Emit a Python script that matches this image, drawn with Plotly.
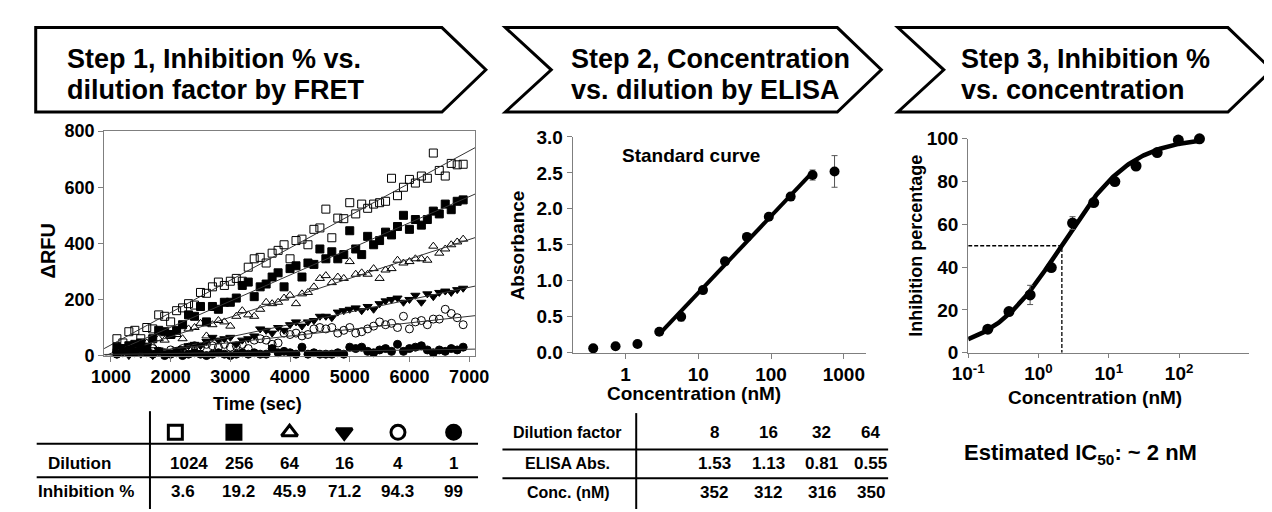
import plotly.graph_objects as go
import numpy as np

W, H = 1272, 512
FONT = "Liberation Sans, Arial, sans-serif"
AX = "#7f7f7f"

# ---------------- Step 1: FRET progress curves ----------------
time_sec = [1100 + 100 * i for i in range(59)]
dilution = [1024, 256, 64, 16, 4, 1]
inhibition_pct = [3.6, 19.2, 45.9, 71.2, 94.3, 99]
symbols = ["square-open", "square", "triangle-up-open", "triangle-down", "circle-open", "circle"]

rfu_1024 = [60, 45, 85, 90, 60, 100, 95, 145, 140, 120, 160, 170, 185, 180, 225, 222, 245, 262, 250, 265,
            275, 265, 315, 345, 350, 330, 365, 375, 395, 345, 410, 415, 395, 450, 455, 522, 420, 490, 488, 545,
            505, 540, 525, 540, 545, 550, 632, 570, 600, 628, 615, 640, 632, 722, 660, 640, 685, 680, 682]
rfu_256 = [30, 25, 35, 40, 45, 30, 60, 90, 85, 75, 90, 110, 145, 140, 175, 120, 175, 165, 190, 190,
           205, 250, 262, 210, 245, 255, 280, 295, 245, 310, 320, 280, 330, 325, 380, 345, 370, 345, 360, 445,
           380, 360, 425, 395, 410, 440, 430, 460, 500, 450, 485, 465, 485, 515, 505, 540, 520, 550, 555]
rfu_64 = [20, 25, 30, 15, 40, 45, 35, 60, 55, 70, 75, 60, 95, 100, 115, 70, 110, 125, 120, 105,
          140, 160, 145, 140, 165, 190, 185, 190, 205, 215, 185, 220, 225, 245, 275, 285, 260, 280, 275, 335,
          290, 295, 290, 310, 275, 305, 310, 340, 330, 335, 345, 345, 340, 390, 365, 380, 395, 405, 415]
rfu_16 = [5, 10, 0, 20, 5, 15, 0, 20, 15, 10, 20, 25, 35, 40, 35, 50, 65, 55, 60, 65,
          40, 55, 60, 70, 95, 90, 80, 100, 90, 110, 120, 105, 120, 125, 140, 140, 135, 155, 160, 165,
          170, 160, 175, 165, 185, 195, 200, 205, 190, 200, 215, 190, 220, 210, 225, 230, 225, 235, 240]
rfu_4 = [20, 10, 15, 25, 30, 20, 25, 15, 10, 20, 15, 25, 30, 35, 30, 40, 35, 30, 40, 30,
         35, 40, 25, 55, 60, 55, 40, 45, 80, 75, 80, 70, 75, 95, 100, 95, 100, 80, 90, 100,
         80, 85, 95, 105, 120, 110, 115, 100, 140, 95, 120, 125, 110, 130, 130, 165, 150, 135, 110]
rfu_1 = [5, 15, 20, 10, 25, 10, 5, 15, 0, 5, 10, 0, 5, 10, 5, 0, 5, 10, 5, 0,
         5, 10, 5, 10, 5, 5, 25, 10, 15, 10, 5, 30, 5, 10, 5, 5, 5, 10, 5, 30,
         25, 30, 15, 10, 20, 25, 15, 40, 15, 25, 30, 35, 20, 10, 20, 15, 25, 20, 30]
rfu_series = [rfu_1024, rfu_256, rfu_64, rfu_16, rfu_4, rfu_1]

# ---------------- Step 2: ELISA standard curve ----------------
std_conc = [0.36, 0.73, 1.46, 2.91, 5.82, 11.6, 23.3, 46.6, 93.1, 186, 372, 745]
std_abs = [0.06, 0.09, 0.12, 0.29, 0.50, 0.87, 1.27, 1.61, 1.89, 2.17, 2.47, 2.52]
std_err = [0.01, 0.01, 0.02, 0.02, 0.06, 0.03, 0.02, 0.02, 0.03, 0.02, 0.07, 0.22]
fit_idx = list(range(3, 11))
elisa_dilution = [8, 16, 32, 64]
elisa_abs = [1.53, 1.13, 0.81, 0.55]
elisa_conc = [352, 312, 316, 350]

# ---------------- Step 3: dose response ----------------
inh_conc = [0.19, 0.38, 0.76, 1.52, 3.05, 6.1, 12.2, 24.4, 48.8, 97.5, 195]
inh_pct = [11.0, 19.2, 27.0, 39.8, 60.6, 70.2, 80.0, 87.3, 93.6, 99.4, 100]
inh_err = [1.0, 1.0, 4.5, 1.5, 3.0, 1.5, 1.0, 1.0, 1.0, 0.8, 0.5]
fit_top, fit_bottom, fit_ic50, fit_hill = 101.0, 0.0, 2.15, 0.88

def X(px):
    return px / W

def Y(py):
    return 1 - py / H

fig = go.Figure()

# Panel 1
x1_range = [885, 7100]
for vals, sym in zip(rfu_series, symbols):
    fig.add_trace(go.Scatter(x=time_sec, y=vals, mode="markers", xaxis="x", yaxis="y",
                             marker=dict(symbol=sym, size=8, color="black", line=dict(color="black", width=1)),
                             cliponaxis=False, showlegend=False))
    k, b = np.polyfit(time_sec, vals, 1)
    xs = np.array(x1_range)
    ys = k * xs + b
    fig.add_trace(go.Scatter(x=xs, y=ys, mode="lines", xaxis="x", yaxis="y",
                             line=dict(color="#333333", width=1), showlegend=False))

# Panel 2
fig.add_trace(go.Scatter(x=std_conc, y=std_abs, mode="markers", xaxis="x2", yaxis="y2",
                         marker=dict(symbol="circle", size=10, color="black"),
                         error_y=dict(type="data", array=std_err, color="#555555", thickness=1, width=3),
                         cliponaxis=False, showlegend=False))
lx = np.log10([std_conc[i] for i in fit_idx])
ly = [std_abs[i] for i in fit_idx]
k2, b2 = np.polyfit(lx, ly, 1)
xs2 = np.array([std_conc[fit_idx[0]], std_conc[fit_idx[-1]]])
fig.add_trace(go.Scatter(x=xs2, y=k2 * np.log10(xs2) + b2, mode="lines", xaxis="x2", yaxis="y2",
                         line=dict(color="black", width=4), showlegend=False))

# Panel 3
xc = np.logspace(-1, np.log10(inh_conc[-1]), 200)
yc = fit_bottom + (fit_top - fit_bottom) / (1 + (fit_ic50 / xc) ** fit_hill)
fig.add_trace(go.Scatter(x=xc, y=yc, mode="lines", xaxis="x3", yaxis="y3",
                         line=dict(color="black", width=4.5), showlegend=False))
fig.add_trace(go.Scatter(x=inh_conc, y=inh_pct, mode="markers", xaxis="x3", yaxis="y3",
                         marker=dict(symbol="circle", size=11, color="black"),
                         error_y=dict(type="data", array=inh_err, color="#555555", thickness=1, width=3),
                         cliponaxis=False, showlegend=False))
fig.add_trace(go.Scatter(x=[0.1, fit_ic50, fit_ic50], y=[50, 50, 0], mode="lines", xaxis="x3", yaxis="y3",
                         line=dict(color="black", width=1.3, dash="4px,2px"), showlegend=False))

# Table symbols (overlay pixel axis)
sym_x = [155, 215, 272, 328, 383, 440]
fig.add_trace(go.Scatter(x=sym_x, y=[432] * 6, mode="markers", xaxis="x4", yaxis="y4",
                         marker=dict(symbol=symbols, size=14, color="black", line=dict(color="black", width=3)),
                         showlegend=False, hoverinfo="skip"))

def tf(size):
    return dict(family=FONT, size=size, color="black", weight="bold")

axis_common = dict(showline=True, linecolor=AX, linewidth=1, ticks="outside", ticklen=5, tickcolor=AX,
                   showgrid=False, zeroline=False)

fig.update_layout(
    width=W, height=H, margin=dict(l=0, r=0, t=0, b=0),
    paper_bgcolor="white", plot_bgcolor="rgba(0,0,0,0)",
    font=dict(family=FONT, color="black"),
    xaxis=dict(domain=[X(82), X(462)], range=x1_range, tickvals=list(range(1000, 7001, 1000)),
               anchor="y", mirror=True, tickfont=tf(18), **axis_common),
    yaxis=dict(domain=[Y(352), Y(118)], range=[0, 800], tickvals=list(range(0, 801, 200)),
               anchor="x", mirror=True, tickfont=tf(18), **axis_common),
    xaxis2=dict(domain=[X(562), X(862)], type="log", range=[-0.725, 3.3], tickvals=[1, 10, 100, 1000],
                ticktext=["1", "10", "100", "1000"], anchor="y2", tickfont=tf(19), **axis_common),
    yaxis2=dict(domain=[Y(349), Y(124)], range=[0, 3], tickvals=[0, 0.5, 1, 1.5, 2, 2.5, 3],
                ticktext=["0.0", "0.5", "1.0", "1.5", "2.0", "2.5", "3.0"], anchor="x2",
                tickfont=tf(19), **axis_common),
    xaxis3=dict(domain=[X(967), X(1255)], type="log", range=[-1, 3], tickvals=[0.1, 1, 10, 100],
                ticktext=["10<sup>-1</sup>", "10<sup>0</sup>", "10<sup>1</sup>", "10<sup>2</sup>"], anchor="y3",
                tickfont=tf(19), **{**axis_common, "ticklen": 4}),
    yaxis3=dict(domain=[Y(349), Y(126)], range=[0, 100], tickvals=list(range(0, 101, 20)), anchor="x3",
                tickfont=tf(19), **axis_common),
    xaxis4=dict(domain=[0, 1], range=[0, W], visible=False, fixedrange=True, anchor="y4"),
    yaxis4=dict(domain=[0, 1], range=[H, 0], visible=False, fixedrange=True, anchor="x4"),
)

shapes = []
def poly(pts):
    d = "M " + " L ".join(f"{X(x):.5f},{Y(y):.5f}" for x, y in pts) + " Z"
    return dict(type="path", xref="paper", yref="paper", path=d,
                line=dict(color="black", width=3), fillcolor="white", layer="below")

shapes.append(poly([(12, 10), (428, 10), (473, 54), (428, 98), (12, 98)]))
shapes.append(poly([(493, 10), (833, 10), (878, 54), (833, 98), (493, 98), (540, 54)]))
shapes.append(poly([(895, 10), (1233, 10), (1278, 54), (1233, 98), (895, 98), (942, 54)]))

def hline(x0, x1, y, w=2):
    return dict(type="line", xref="paper", yref="paper", x0=X(x0), x1=X(x1), y0=Y(y), y1=Y(y),
                line=dict(color="black", width=w))

def vline(x, y0, y1, w=2):
    return dict(type="line", xref="paper", yref="paper", x0=X(x), x1=X(x), y0=Y(y0), y1=Y(y1),
                line=dict(color="black", width=w))

shapes += [hline(13, 465, 444), hline(13, 465, 479), vline(129, 410, 512),
           hline(490, 885, 450), hline(490, 885, 480), vline(627, 412, 512)]
fig.update_layout(shapes=shapes)

ann = []
def text(x, y, s, size, xanchor="center", angle=0):
    ann.append(dict(x=X(x), y=Y(y), xref="paper", yref="paper", text=s, showarrow=False,
                    xanchor=xanchor, yanchor="middle", textangle=angle, font=tf(size)))

# Headers
text(42, 43, "Step 1, Inhibition % vs.", 27, "left")
text(42, 75, "dilution factor by FRET", 27, "left")
text(558, 43, "Step 2, Concentration", 27, "left")
text(558, 75, "vs. dilution by ELISA", 27, "left")
text(958, 43, "Step 3, Inhibition %", 27, "left")
text(958, 75, "vs. concentration", 27, "left")

# Axis titles
text(25, 243, "ΔRFU", 20, angle=-90)
text(239, 403, "Time (sec)", 18)
text(505, 237, "Absorbance", 19, angle=-90)
text(686, 392, "Concentration (nM)", 19)
text(683, 143, "Standard curve", 19)
text(914, 237, "Inhibition percentage", 18, angle=-90)
text(1097, 396, "Concentration (nM)", 19)
text(1082, 455, "Estimated IC<sub>50</sub>: ~ 2 nM", 22)

# Table 1
num_x = [169, 220, 272, 328, 383, 440]
pct_x = [163, 220, 272, 328, 383, 440]
text(57, 465, "Dilution", 17)
text(63, 494, "Inhibition %", 17)
for xx, d in zip(num_x, dilution):
    text(xx, 465, str(d), 17)
for xx, p in zip(pct_x, inhibition_pct):
    text(xx, 494, f"{p:g}", 17)

# Table 2
col2_x = [707, 762, 817, 867]
text(556, 432, "Dilution factor", 16)
text(557, 465, "ELISA Abs.", 16)
text(558, 495, "Conc. (nM)", 16)
for xx, d, a, c in zip(col2_x, elisa_dilution, elisa_abs, elisa_conc):
    text(xx, 432, str(d), 17)
    text(xx, 465, f"{a:.2f}", 17)
    text(xx, 495, str(c), 17)

fig.update_layout(annotations=ann)
fig.write_html("out.html")
